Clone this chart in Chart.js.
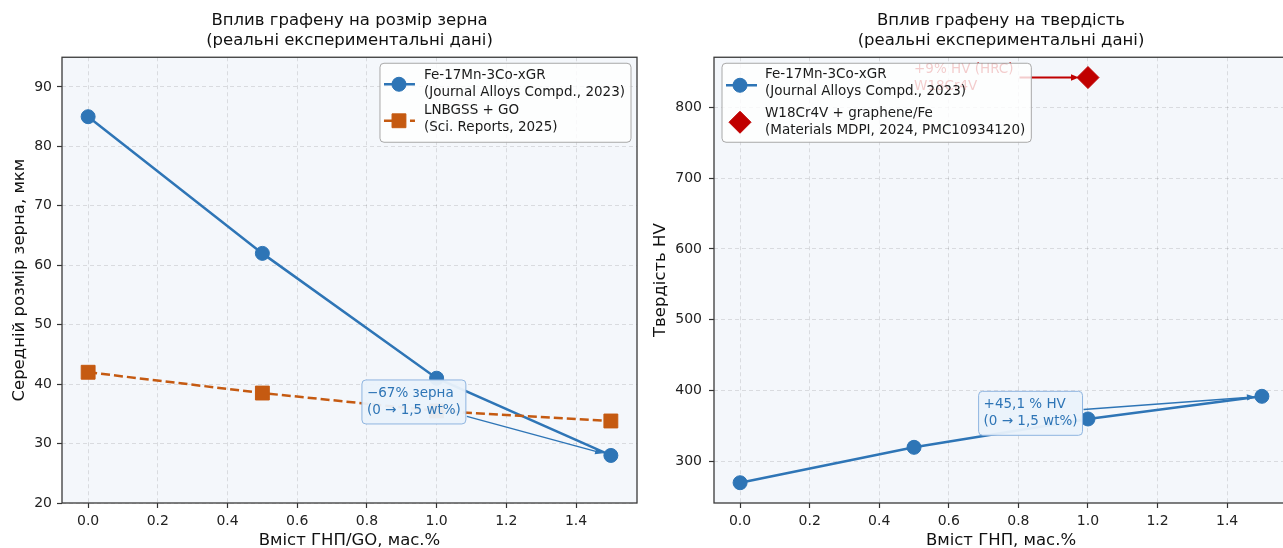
<!DOCTYPE html>
<html>
<head>
<meta charset="utf-8">
<script src="https://cdn.jsdelivr.net/npm/chart.js@4.4.1/dist/chart.umd.min.js"></script>
<style>
html, body { margin:0; padding:0; background:#ffffff; width:1283px; height:548px; overflow:hidden; }
#wrap { position:relative; width:1283px; height:548px; overflow:hidden; }
#c1 { position:absolute; left:0; top:0; }
#c2 { position:absolute; left:640px; top:0; }
</style>
</head>
<body>
<div id="wrap">
  <canvas id="c1" width="640" height="548"></canvas>
  <canvas id="c2" width="655" height="548"></canvas>
</div>
<script>
// ---------------- DATA ----------------
const grapheneWt      = [0.0, 0.5, 1.0, 1.5];          // wt.% graphene / GO
const grainFeMnCo     = [85, 62, 41, 28];              // grain size, µm
const grainLNBGSS     = [42, 38.5, 35.5, 33.8];        // grain size, µm
const hardFeMnCo      = [270, 320, 360, 392];          // HV
const hardW18Wt       = [1.0];
const hardW18         = [842];                         // HV
const xTickValues     = [0.0, 0.2, 0.4, 0.6, 0.8, 1.0, 1.2, 1.4];
const grainTickValues = [20, 30, 40, 50, 60, 70, 80, 90];
const hardTickValues  = [300, 400, 500, 600, 700, 800];
const grainLimits     = [20, 95];

const leftTitle   = ['Вплив графену на розмір зерна', '(реальні експериментальні дані)'];
const rightTitle  = ['Вплив графену на твердість', '(реальні експериментальні дані)'];
const leftXLabel  = 'Вміст ГНП/GO, мас.%';
const rightXLabel = 'Вміст ГНП, мас.%';
const leftYLabel  = 'Середній розмір зерна, мкм';
const rightYLabel = 'Твердість HV';
const nameFeMnCo  = ['Fe-17Mn-3Co-xGR', '(Journal Alloys Compd., 2023)'];
const nameLNBGSS  = ['LNBGSS + GO', '(Sci. Reports, 2025)'];
const nameW18     = ['W18Cr4V + graphene/Fe', '(Materials MDPI, 2024, PMC10934120)'];
const noteGrain   = ['\u221267% зерна', '(0 \u2192 1,5 wt%)'];
const noteHard    = ['+45,1 % HV', '(0 \u2192 1,5 wt%)'];
const noteW18     = ['+9% HV (HRC)', 'W18Cr4V'];

// ---------------- STYLE ----------------
const FAMILY = 'DejaVu Sans';
const BLUE = '#2E75B6', ORANGE = '#C55A11', RED = '#C00000';
const PLOT_BG = '#F4F7FB';
Chart.defaults.font.family = FAMILY;
Chart.defaults.color = '#222';

function pad5(arr) {
  const mn = Math.min(...arr), mx = Math.max(...arr), m = (mx - mn) * 0.05;
  return [mn - m, mx + m];
}
const xLimits = pad5(grapheneWt);
const hardLimits = pad5(hardFeMnCo.concat(hardW18));
const pts = (xs, ys) => xs.map((x, i) => ({ x: x, y: ys[i] }));

// ---------------- DRAW HELPERS ----------------
function drawMarker(ctx, style, x, y, r, color) {
  ctx.save();
  ctx.fillStyle = color; ctx.strokeStyle = color; ctx.lineWidth = 1;
  ctx.setLineDash([]);
  ctx.beginPath();
  if (style === 'circle') ctx.arc(x, y, r, 0, Math.PI * 2);
  else if (style === 'rect') { const s = r * Math.SQRT1_2; ctx.rect(x - s, y - s, 2 * s, 2 * s); }
  else if (style === 'rectRot') { ctx.moveTo(x, y - r); ctx.lineTo(x + r, y); ctx.lineTo(x, y + r); ctx.lineTo(x - r, y); ctx.closePath(); }
  ctx.fill(); ctx.stroke();
  ctx.restore();
}
function roundRect(ctx, x, y, w, h, r) {
  ctx.beginPath();
  ctx.moveTo(x + r, y); ctx.lineTo(x + w - r, y); ctx.arcTo(x + w, y, x + w, y + r, r);
  ctx.lineTo(x + w, y + h - r); ctx.arcTo(x + w, y + h, x + w - r, y + h, r);
  ctx.lineTo(x + r, y + h); ctx.arcTo(x, y + h, x, y + h - r, r);
  ctx.lineTo(x, y + r); ctx.arcTo(x, y, x + r, y, r); ctx.closePath();
}
function drawArrow(ctx, x1, y1, x2, y2, color, lw) {
  const a = Math.atan2(y2 - y1, x2 - x1), hl = 8, hw = 3.2;
  ctx.save();
  ctx.strokeStyle = color; ctx.fillStyle = color; ctx.lineWidth = lw; ctx.setLineDash([]);
  ctx.beginPath(); ctx.moveTo(x1, y1); ctx.lineTo(x2 - Math.cos(a) * hl * 0.6, y2 - Math.sin(a) * hl * 0.6); ctx.stroke();
  ctx.beginPath();
  ctx.moveTo(x2, y2);
  ctx.lineTo(x2 - hl * Math.cos(a) + hw * Math.sin(a), y2 - hl * Math.sin(a) - hw * Math.cos(a));
  ctx.lineTo(x2 - hl * Math.cos(a) - hw * Math.sin(a), y2 - hl * Math.sin(a) + hw * Math.cos(a));
  ctx.closePath(); ctx.fill();
  ctx.restore();
}
// point where segment from center (cx,cy) toward (tx,ty) leaves the box
function boxExit(cx, cy, hw, hh, tx, ty) {
  const dx = tx - cx, dy = ty - cy;
  let t = 1;
  if (dx !== 0) t = Math.min(t, hw / Math.abs(dx));
  if (dy !== 0) t = Math.min(t, hh / Math.abs(dy));
  return [cx + dx * t, cy + dy * t];
}

// ---------------- PANEL PLUGIN ----------------
function panelPlugin(cfg) {
  return {
    id: 'panel_' + cfg.id,
    beforeDraw(chart) {
      const { ctx, chartArea: ca } = chart;
      ctx.save(); ctx.fillStyle = PLOT_BG;
      ctx.fillRect(ca.left, ca.top, ca.right - ca.left, ca.bottom - ca.top);
      ctx.restore();
    },
    afterDatasetsDraw(chart) {
      const ctx = chart.ctx, xs = chart.scales.x, ys = chart.scales.y;
      cfg.notes.forEach(n => {
        ctx.save();
        ctx.font = n.font;
        const lh = n.lineH;
        const w = Math.max(...n.lines.map(l => ctx.measureText(l).width));
        const tx = xs.getPixelForValue(n.textX), tcy = ys.getPixelForValue(n.textY);
        const h = lh * n.lines.length;
        const bx = tx - n.pad, by = tcy - h / 2 - n.pad, bw = w + 2 * n.pad, bh = h + 2 * n.pad;
        const px = xs.getPixelForValue(n.toX), py = ys.getPixelForValue(n.toY);
        const cx = bx + bw / 2, cy = by + bh / 2;
        const [sx, sy] = boxExit(cx, cy, bw / 2 + n.gapA, bh / 2 + n.gapA, px, py);
        const a = Math.atan2(py - sy, px - sx);
        drawArrow(ctx, sx, sy, px - Math.cos(a) * n.shrinkB, py - Math.sin(a) * n.shrinkB, n.arrowColor, n.arrowW);
        if (n.box) {
          roundRect(ctx, bx, by, bw, bh, 4);
          ctx.fillStyle = n.boxFill; ctx.fill();
          ctx.lineWidth = 1; ctx.strokeStyle = n.boxEdge; ctx.stroke();
        }
        ctx.fillStyle = n.color; ctx.textBaseline = 'middle'; ctx.textAlign = 'left';
        n.lines.forEach((l, i) => ctx.fillText(l, tx, tcy - h / 2 + lh * (i + 0.5)));
        ctx.restore();
      });
    },
    afterDraw(chart) {
      const { ctx, chartArea: ca } = chart;
      // frame
      ctx.save();
      ctx.strokeStyle = '#3a3a3a'; ctx.lineWidth = 1.3; ctx.setLineDash([]);
      ctx.strokeRect(ca.left, ca.top, ca.right - ca.left, ca.bottom - ca.top);
      ctx.restore();
      // legend
      const L = cfg.legend;
      ctx.save();
      ctx.font = L.font;
      let maxW = 0;
      L.items.forEach(it => it.lines.forEach(l => { maxW = Math.max(maxW, ctx.measureText(l).width); }));
      const w = L.textX + maxW + L.padR, h = L.height;
      const x = L.side === 'right' ? ca.right - L.margin - w : ca.left + L.margin;
      const y = ca.top + L.marginTop;
      roundRect(ctx, x, y, w, h, 4);
      ctx.fillStyle = 'rgba(255,255,255,0.8)'; ctx.fill();
      ctx.strokeStyle = '#a8a8a8'; ctx.lineWidth = 1; ctx.stroke();
      L.items.forEach(it => {
        const hy = y + it.hy;
        if (it.line) {
          ctx.save();
          ctx.strokeStyle = it.color; ctx.lineWidth = 2.5; ctx.setLineDash(it.dash || []);
          ctx.beginPath(); ctx.moveTo(x + 4, hy); ctx.lineTo(x + 35, hy); ctx.stroke();
          ctx.restore();
        }
        drawMarker(ctx, it.marker, x + L.markX, hy, it.r, it.color);
        ctx.fillStyle = '#1a1a1a'; ctx.textBaseline = 'middle'; ctx.textAlign = 'left';
        it.lines.forEach((l, i) => ctx.fillText(l, x + L.textX, y + it.ys[i]));
      });
      ctx.restore();
    }
  };
}

function makeOptions(o) {
  return {
    responsive: false, animation: false, devicePixelRatio: 1,
    events: [],
    layout: { autoPadding: false, padding: { left: 0, right: o.padRight, top: 0, bottom: 0 } },
    plugins: {
      legend: { display: false }, tooltip: { enabled: false },
      title: {
        display: true, text: o.title, fullSize: false, color: '#111',
        font: { family: FAMILY, size: 16.5, weight: 'normal', lineHeight: 1.22 },
        padding: { top: 11, bottom: 6 }
      }
    },
    scales: {
      x: {
        type: 'linear', min: xLimits[0], max: xLimits[1],
        afterBuildTicks: s => { s.ticks = xTickValues.map(v => ({ value: v })); },
        afterFit: s => { s.height = 45; s.paddingLeft = 0; s.paddingRight = 0; },
        ticks: { font: { size: 14 }, color: '#222', padding: 5, callback: v => v.toFixed(1), maxRotation: 0 },
        grid: { color: 'rgba(0,0,0,0.11)', lineWidth: 1, tickLength: 5, tickColor: '#333', tickWidth: 1.2 },
        border: { display: false, dash: [4, 3] },
        title: { display: true, text: o.xLabel, color: '#111', font: { size: 16.5, lineHeight: 1 }, padding: { top: 0, bottom: -1 } }
      },
      y: {
        type: 'linear', min: o.yLimits[0], max: o.yLimits[1],
        afterBuildTicks: s => { s.ticks = o.yTicks.map(v => ({ value: v })); },
        afterFit: s => { s.width = o.yWidth; s.paddingTop = 0; s.paddingBottom = 0; },
        ticks: { font: { size: 14 }, color: '#222', padding: o.yTickPad, callback: v => String(v) },
        grid: { color: 'rgba(0,0,0,0.11)', lineWidth: 1, tickLength: 5, tickColor: '#333', tickWidth: 1.2 },
        border: { display: false, dash: [4, 3] },
        title: { display: true, text: o.yLabel, color: '#111', font: { size: 16.5, lineHeight: 1 }, padding: { top: o.yTitlePad, bottom: 0 } }
      }
    }
  };
}

const NOTE_FONT = '13.5px "' + FAMILY + '"';
const LEG_FONT = '13.5px "' + FAMILY + '"';

// ---------------- LEFT PANEL ----------------
new Chart(document.getElementById('c1'), {
  type: 'line',
  data: {
    datasets: [
      { label: nameFeMnCo.join(' '), data: pts(grapheneWt, grainFeMnCo), order: 2,
        borderColor: BLUE, backgroundColor: BLUE, borderWidth: 2.5, tension: 0,
        pointStyle: 'circle', pointRadius: 7, pointBorderWidth: 1, pointBorderColor: BLUE, pointBackgroundColor: BLUE },
      { label: nameLNBGSS.join(' '), data: pts(grapheneWt, grainLNBGSS), order: 1,
        borderColor: ORANGE, backgroundColor: ORANGE, borderWidth: 2.5, borderDash: [9, 4], tension: 0,
        pointStyle: 'rect', pointRadius: 9.8, pointBorderWidth: 1, pointBorderColor: ORANGE, pointBackgroundColor: ORANGE }
    ]
  },
  options: makeOptions({ title: leftTitle, xLabel: leftXLabel, yLabel: leftYLabel, yLimits: grainLimits,
    yTicks: grainTickValues, yWidth: 62, yTickPad: 5, yTitlePad: 11, padRight: 3 }),
  plugins: [panelPlugin({
    id: 'left',
    notes: [{ lines: noteGrain, font: NOTE_FONT, lineH: 17, textX: 0.8, textY: 37, toX: grapheneWt[3], toY: grainFeMnCo[3],
      pad: 5, gapA: 1, shrinkB: 8, box: true, boxFill: 'rgba(234,242,251,0.95)', boxEdge: '#8FB5E0',
      color: BLUE, arrowColor: BLUE, arrowW: 1.5 }],
    legend: { font: LEG_FONT, side: 'right', margin: 6, marginTop: 6, height: 79, textX: 44, padR: 6, markX: 19,
      items: [
        { lines: nameFeMnCo, ys: [12, 29], hy: 21, line: true, marker: 'circle', r: 7, color: BLUE },
        { lines: nameLNBGSS, ys: [47, 64], hy: 57.5, line: true, dash: [9, 4], marker: 'rect', r: 9.8, color: ORANGE }
      ] }
  })]
});

// ---------------- RIGHT PANEL ----------------
new Chart(document.getElementById('c2'), {
  type: 'line',
  data: {
    datasets: [
      { label: nameFeMnCo.join(' '), data: pts(grapheneWt, hardFeMnCo), order: 2,
        borderColor: BLUE, backgroundColor: BLUE, borderWidth: 2.5, tension: 0,
        pointStyle: 'circle', pointRadius: 7, pointBorderWidth: 1, pointBorderColor: BLUE, pointBackgroundColor: BLUE },
      { label: nameW18.join(' '), data: pts(hardW18Wt, hardW18), order: 1, showLine: false,
        borderColor: RED, backgroundColor: RED,
        pointStyle: 'rectRot', pointRadius: 11, pointBorderWidth: 1, pointBorderColor: RED, pointBackgroundColor: RED }
    ]
  },
  options: makeOptions({ title: rightTitle, xLabel: rightXLabel, yLabel: rightYLabel, yLimits: hardLimits,
    yTicks: hardTickValues, yWidth: 74, yTickPad: 7, yTitlePad: 12, padRight: 7 }),
  plugins: [panelPlugin({
    id: 'right',
    notes: [
      { lines: noteHard, font: NOTE_FONT, lineH: 17, textX: 0.7, textY: 368, toX: grapheneWt[3], toY: hardFeMnCo[3],
        pad: 5, gapA: 1, shrinkB: 7, box: true, boxFill: 'rgba(234,242,251,0.95)', boxEdge: '#8FB5E0',
        color: BLUE, arrowColor: BLUE, arrowW: 1.5 },
      { lines: noteW18, font: NOTE_FONT, lineH: 17, textX: 0.5, textY: hardW18[0], toX: hardW18Wt[0], toY: hardW18[0],
        pad: 0, gapA: 6, shrinkB: 9, box: false, color: RED, arrowColor: RED, arrowW: 1.8 }
    ],
    legend: { font: LEG_FONT, side: 'left', margin: 8, marginTop: 6, height: 79, textX: 43, padR: 6, markX: 18,
      items: [
        { lines: nameFeMnCo, ys: [11, 28], hy: 22, line: true, marker: 'circle', r: 7, color: BLUE },
        { lines: nameW18, ys: [50, 67], hy: 59, line: false, marker: 'rectRot', r: 11, color: RED }
      ] }
  })]
});
</script>
</body>
</html>
